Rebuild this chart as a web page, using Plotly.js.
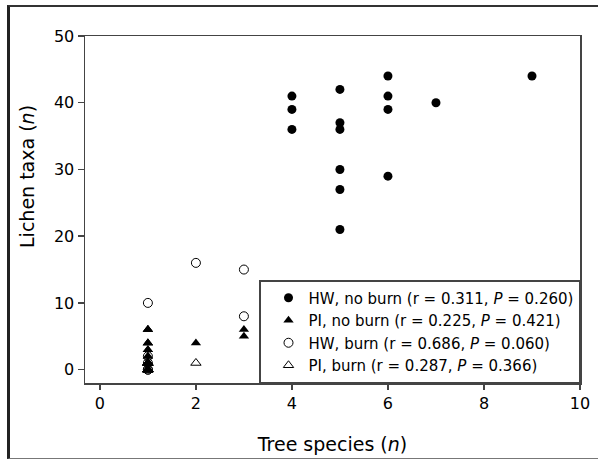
<!DOCTYPE html>
<html>
<head>
<meta charset="utf-8">
<script src="https://cdn.plot.ly/plotly-3.0.1.min.js"></script>
<style>
  html, body { margin: 0; padding: 0; background: #fff; }
  #wrap { position: relative; width: 598px; height: 459px; overflow: hidden; }
  #chart { width: 598px; height: 459px; }
  #frame { position: absolute; left: 7px; top: 5px; width: 600px; height: 451px;
           border-left: 3px solid #222; border-top: 2px solid #333; border-bottom: 1px solid #777;
           pointer-events: none; }
</style>
</head>
<body>
<div id="wrap">
  <div id="chart"></div>
  <div id="frame"></div>
</div>
<script>
// Data
const hwNoBurnX = [4, 4, 4, 5, 5, 5, 5, 5, 5, 6, 6, 6, 6, 7, 9];
const hwNoBurnY = [41, 39, 36, 42, 37, 36, 30, 27, 21, 44, 41, 39, 29, 40, 44];

const piNoBurnX = [1, 1, 1, 1, 1, 1, 1, 1, 1, 1, 1, 1, 2, 3, 3];
const piNoBurnY = [6, 6, 6, 4, 4, 4, 3, 3, 2, 2, 1, 0, 4, 6, 5];

const hwBurnX = [1, 1, 1, 1, 1, 2, 3, 3];
const hwBurnY = [10, 0, 0, 1, 2, 16, 15, 8];

const piBurnX = [1, 1, 1, 1, 1, 1, 1, 1, 1, 1, 1, 2];
const piBurnY = [0, 0, 0, 0, 0, 0, 1, 1, 1, 1, 1, 1];

const seriesNames = [
  'HW, no burn (r = 0.311, <i>P</i> = 0.260)',
  'PI, no burn (r = 0.225, <i>P</i> = 0.421)',
  'HW, burn (r = 0.686, <i>P</i> = 0.060)',
  'PI, burn (r = 0.287, <i>P</i> = 0.366)'
];

const xTicks = [0, 2, 4, 6, 8, 10];
const yTicks = [0, 10, 20, 30, 40, 50];

const FONT = 'DejaVu Sans, Arial, sans-serif';

const traces = [
  { x: hwNoBurnX, y: hwNoBurnY, name: seriesNames[0], type: 'scatter', mode: 'markers',
    marker: { symbol: 'circle', size: 9, color: '#000', line: { width: 0 } } },
  { x: piNoBurnX, y: piNoBurnY, name: seriesNames[1], type: 'scatter', mode: 'markers',
    marker: { symbol: 'triangle-up', size: 9, color: '#000', line: { width: 0 } } },
  { x: hwBurnX, y: hwBurnY, name: seriesNames[2], type: 'scatter', mode: 'markers',
    marker: { symbol: 'circle-open', size: 9, color: '#000', line: { width: 1, color: '#000' } } },
  { x: piBurnX, y: piBurnY, name: seriesNames[3], type: 'scatter', mode: 'markers',
    marker: { symbol: 'triangle-up-open', size: 9, color: '#000', line: { width: 1, color: '#000' } } }
];

const layout = {
  width: 598, height: 459,
  margin: { l: 85, r: 18, t: 36, b: 76, pad: 0 },
  paper_bgcolor: '#fff', plot_bgcolor: '#fff',
  font: { family: FONT, color: '#000' },
  showlegend: true,
  xaxis: {
    range: [-0.31, 10], tickvals: xTicks, ticktext: xTicks.map(String),
    showgrid: false, zeroline: false,
    showline: true, linecolor: '#444', linewidth: 1.5, mirror: true,
    ticks: 'outside', ticklen: 5, tickwidth: 1.5, tickcolor: '#444',
    tickfont: { family: FONT, size: 16, color: '#000' },
    title: { text: 'Tree species (<i>n</i>)', font: { family: FONT, size: 19, color: '#000' }, standoff: 26 }
  },
  yaxis: {
    range: [-2, 50], tickvals: yTicks, ticktext: yTicks.map(String),
    showgrid: false, zeroline: false,
    showline: true, linecolor: '#444', linewidth: 1.5, mirror: true,
    ticks: 'outside', ticklen: 6, tickwidth: 1.5, tickcolor: '#444',
    tickfont: { family: FONT, size: 16, color: '#000' },
    title: { text: '' }
  },
  annotations: [{
    text: 'Lichen taxa (<i>n</i>)', textangle: -90,
    xref: 'paper', yref: 'paper', x: -0.117, y: 0.594,
    xanchor: 'center', yanchor: 'middle', showarrow: false,
    font: { family: FONT, size: 19, color: '#000' }
  }],
  legend: {
    x: 1, y: 0, xanchor: 'right', yanchor: 'bottom',
    bgcolor: '#fff', bordercolor: '#444', borderwidth: 1.5,
    font: { family: FONT, size: 15, color: '#000' },
    indentation: 8, tracegroupgap: 0
  }
};

Plotly.newPlot('chart', traces, layout, { displayModeBar: false, staticPlot: true });
</script>
</body>
</html>
